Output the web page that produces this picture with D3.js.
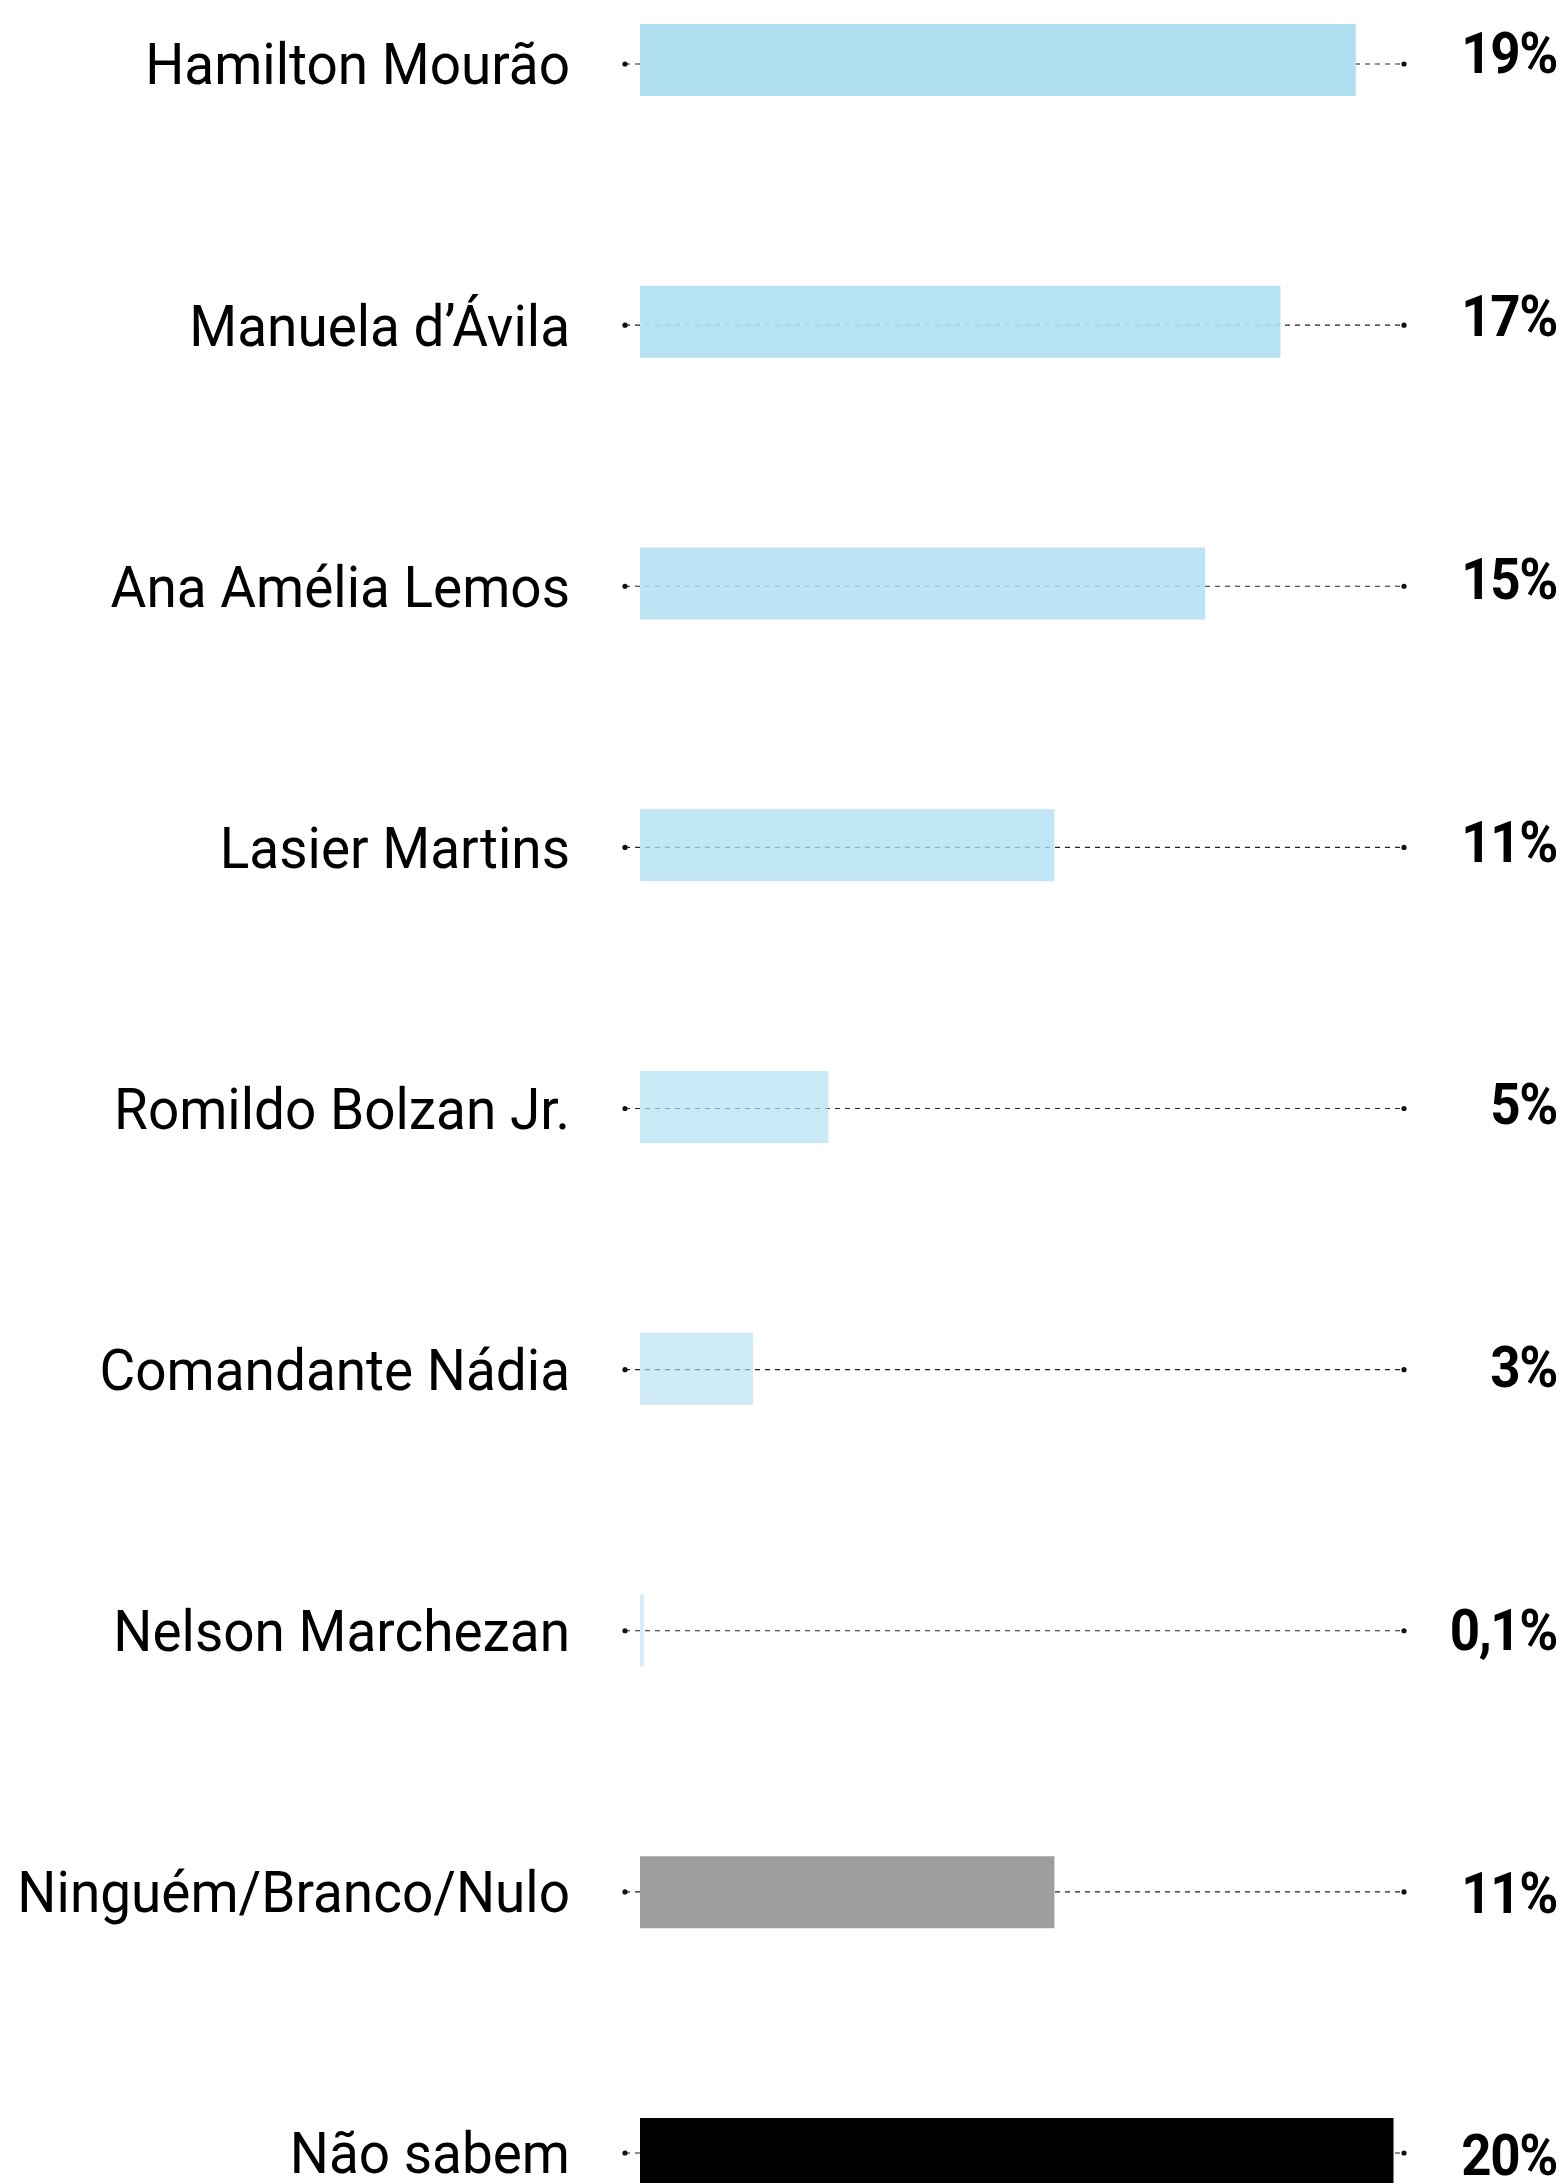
<!DOCTYPE html>
<html>
<head>
<meta charset="utf-8">
<script src="https://cdn.jsdelivr.net/npm/d3@7/dist/d3.min.js"></script>
<style>
  body { margin: 0; background: #fff; }
  svg { display: block; }
</style>
</head>
<body>
<div id="chart"></div>
<script>
const names = ['Hamilton Mourão', 'Manuela d’Ávila', 'Ana Amélia Lemos', 'Lasier Martins',
  'Romildo Bolzan Jr.', 'Comandante Nádia', 'Nelson Marchezan', 'Ninguém/Branco/Nulo', 'Não sabem']
const values = [19, 17, 15, 11, 5, 3, 0.1, 11, 20]
const valueLabels = ['19%', '17%', '15%', '11%', '5%', '3%', '0,1%', '11%', '20%']
const barColors = ['#b0dff2', '#b0dff2', '#b0dff2', '#b0dff2', '#b0dff2', '#b0dff2', '#b0dff2', '#9e9e9e', '#000000']
const barOpacity = [1, 0.92, 0.85, 0.78, 0.7, 0.62, 0.55, 1, 1]

const w = 1564
const h = 2183
const data = names.map((n, i) => ({ name: n, value: values[i], label: valueLabels[i], color: barColors[i], op: barOpacity[i] }))

const svg = d3.select('#chart').append('svg')
  .attr('width', w)
  .attr('height', h)

const x = d3.scaleLinear().domain([0, 20]).range([640, 1393.5])
// bars, guide lines and the two label columns sit on slightly different rows
const yBar = d3.scalePoint().domain(names).range([60, 2154])
const yLine = d3.scalePoint().domain(names).range([64, 2153])
const yVal = d3.scalePoint().domain(names).range([53, 2155])
const barH = 72
const lineX0 = 625
const lineX1 = 1404

const rows = svg.selectAll('g.row')
  .data(data)
  .enter().append('g')
  .attr('class', 'row')

rows.append('line')
  .attr('x1', lineX0)
  .attr('x2', lineX1)
  .attr('y1', d => yLine(d.name))
  .attr('y2', d => yLine(d.name))
  .attr('stroke', '#222')
  .attr('stroke-width', 1.2)
  .attr('stroke-dasharray', '5,5')

rows.append('circle')
  .attr('cx', lineX0)
  .attr('cy', d => yLine(d.name))
  .attr('r', 2.6)
  .attr('fill', '#111')

rows.append('circle')
  .attr('cx', lineX1)
  .attr('cy', d => yLine(d.name))
  .attr('r', 2.6)
  .attr('fill', '#111')

rows.append('rect')
  .attr('x', x(0))
  .attr('y', d => yBar(d.name) - barH / 2)
  .attr('width', d => x(d.value) - x(0))
  .attr('height', barH)
  .attr('fill', d => d.color)
  .attr('fill-opacity', d => d.op)

rows.append('text')
  .attr('transform', d => 'translate(570,' + yLine(d.name) + ') scale(0.955,1)')
  .attr('dy', '0.355em')
  .attr('text-anchor', 'end')
  .attr('font-family', 'Roboto, sans-serif')
  .attr('font-weight', 400)
  .attr('font-size', 57.5)
  .attr('fill', '#000')
  .text(d => d.name)

rows.append('text')
  .attr('transform', d => 'translate(1557,' + yVal(d.name) + ') scale(0.92,1)')
  .attr('dy', '0.355em')
  .attr('text-anchor', 'end')
  .attr('font-family', 'Roboto, sans-serif')
  .attr('font-weight', 700)
  .attr('font-size', 57.5)
  .attr('letter-spacing', -1.5)
  .attr('fill', '#000')
  .text(d => d.label)
</script>
</body>
</html>
